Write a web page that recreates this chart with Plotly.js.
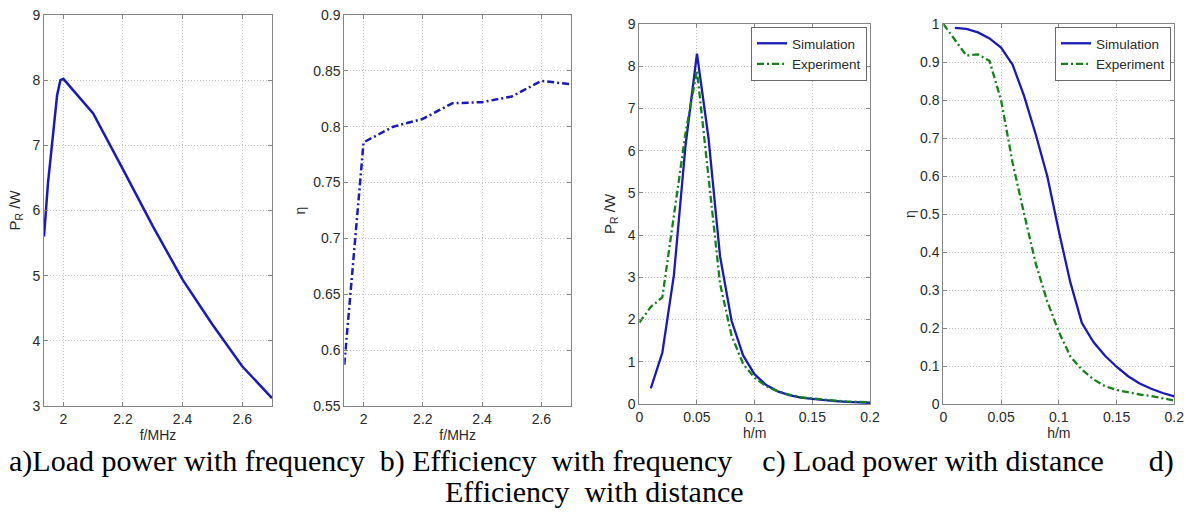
<!DOCTYPE html>
<html>
<head>
<meta charset="utf-8">
<script src="https://cdn.plot.ly/plotly-3.0.1.min.js"></script>
<style>html,body{margin:0;padding:0;background:#fff;}#chart{width:1186px;height:514px;}</style>
</head>
<body>
<div id="chart"></div>
<script>
// ---- data ----
// a) load power vs frequency
const freqA  = [1.935, 1.948, 1.979, 1.99, 2.0, 2.1, 2.2, 2.3, 2.4, 2.5, 2.6, 2.7];
const powerA = [5.6, 6.4, 7.77, 8.0, 8.02, 7.49, 6.63, 5.76, 4.94, 4.25, 3.61, 3.12];
// b) efficiency vs frequency
const freqB = [1.935, 1.95, 1.98, 2.0, 2.1, 2.2, 2.3, 2.4, 2.5, 2.6, 2.7];
const effB  = [0.587, 0.633, 0.725, 0.786, 0.800, 0.807, 0.821, 0.822, 0.827, 0.841, 0.838];
// c) load power vs distance
const distSimC = [0.01,0.02,0.03,0.04,0.05,0.06,0.07,0.08,0.09,0.10,0.11,0.12,0.13,0.14,0.15,0.16,0.17,0.18,0.19,0.20];
const simPowerC = [0.37,1.22,3.05,6.1,8.3,6.3,3.5,1.97,1.15,0.7,0.45,0.3,0.21,0.15,0.12,0.09,0.07,0.05,0.04,0.03];
const distExpC = [0,0.01,0.02,0.03,0.04,0.05,0.06,0.07,0.08,0.09,0.10,0.11,0.12,0.13,0.14,0.15,0.16,0.17,0.18,0.19,0.20];
const expPowerC = [1.93,2.3,2.53,4.5,6.4,7.9,5.3,2.85,1.62,0.95,0.62,0.42,0.3,0.22,0.16,0.13,0.1,0.08,0.06,0.05,0.04];
// d) efficiency vs distance
const distSimD = [0.01,0.02,0.03,0.04,0.05,0.06,0.07,0.08,0.09,0.10,0.11,0.12,0.13,0.14,0.15,0.16,0.17,0.18,0.19,0.20];
const simEffD = [0.99,0.987,0.978,0.962,0.938,0.893,0.81,0.71,0.6,0.455,0.32,0.213,0.163,0.127,0.098,0.073,0.054,0.04,0.029,0.02];
const distExpD = [0,0.02,0.03,0.04,0.05,0.06,0.07,0.08,0.09,0.10,0.11,0.12,0.13,0.14,0.15,0.16,0.17,0.18,0.19,0.20];
const expEffD = [1.0,0.917,0.92,0.903,0.80,0.635,0.5,0.37,0.27,0.19,0.125,0.09,0.065,0.047,0.037,0.03,0.025,0.021,0.015,0.009];

const seriesNames = ['Simulation', 'Experiment'];
const NB = '\u00A0';
const captionLine1 = 'a)Load power with frequency' + NB + ' b) Efficiency' + NB + ' with frequency' + NB + NB + NB + ' c) Load power with distance' + NB + NB + NB + NB + NB + ' d)';
const captionLine2 = 'Efficiency' + NB + ' with distance';

// ---- styling ----
const W = 1186, H = 514;
const BLUE = '#1a1ab5', GREEN = '#16801b';
const sans = 'Liberation Sans, Arial, sans-serif';
function px(a, b) { return [a / W, b / W]; }
function py(top, bottom) { return [(H - bottom) / H, (H - top) / H]; }

function axis(dom, range, dtick, tick0, title, standoff, tsize, extra) {
  return Object.assign({
    domain: dom, range: range, dtick: dtick, tick0: tick0, tickmode: 'linear',
    showline: true, mirror: 'ticks', linecolor: '#858585', linewidth: 1,
    ticks: 'inside', ticklen: 4, tickcolor: '#858585',
    showgrid: true, gridcolor: '#c2c2c2', griddash: '1px,2px', gridwidth: 1,
    zeroline: false, fixedrange: true, automargin: false,
    tickfont: { family: sans, size: 14, color: '#2a2a2a' },
    title: { text: title, standoff: standoff, font: { family: sans, size: tsize, color: '#2a2a2a' } }
  }, extra || {});
}

const DASHDOT = '7px,3px,2px,3px';
const traces = [
  { x: freqA, y: powerA, xaxis: 'x', yaxis: 'y', mode: 'lines', showlegend: false,
    line: { color: BLUE, width: 2.5 } },
  { x: freqB, y: effB, xaxis: 'x2', yaxis: 'y2', mode: 'lines', showlegend: false,
    line: { color: BLUE, width: 2.5, dash: DASHDOT } },
  { x: distSimC, y: simPowerC, xaxis: 'x3', yaxis: 'y3', mode: 'lines', name: seriesNames[0],
    legend: 'legend', line: { color: BLUE, width: 2.3 } },
  { x: distExpC, y: expPowerC, xaxis: 'x3', yaxis: 'y3', mode: 'lines', name: seriesNames[1],
    legend: 'legend', line: { color: GREEN, width: 2.3, dash: DASHDOT } },
  { x: distSimD, y: simEffD, xaxis: 'x4', yaxis: 'y4', mode: 'lines', name: seriesNames[0],
    legend: 'legend2', line: { color: BLUE, width: 2.3 } },
  { x: distExpD, y: expEffD, xaxis: 'x4', yaxis: 'y4', mode: 'lines', name: seriesNames[1],
    legend: 'legend2', line: { color: GREEN, width: 2.3, dash: DASHDOT } }
];

const legendStyle = {
  xanchor: 'right', yanchor: 'top', bgcolor: '#ffffff', bordercolor: '#6a6a6a', borderwidth: 1,
  font: { family: sans, size: 13.5, color: '#2a2a2a' }, itemwidth: 30, tracegroupgap: 0,
  itemclick: false, itemdoubleclick: false
};

const capFont = { family: 'Liberation Serif, Times New Roman, serif', size: 30, color: '#000' };

const layout = {
  width: W, height: H, margin: { l: 0, r: 0, t: 0, b: 0 },
  paper_bgcolor: '#ffffff', plot_bgcolor: '#ffffff',
  xaxis:  axis(px(44, 272), [1.935, 2.7], 0.2, 2, 'f/MHz', 0, 14, { anchor: 'y' }),
  yaxis:  axis(py(15, 406), [3, 9], 1, 3, 'P<sub>R</sub> /W', 8, 15, { anchor: 'x' }),
  xaxis2: axis(px(344.3, 571), [1.935, 2.7], 0.2, 2, 'f/MHz', 0, 14, { anchor: 'y2' }),
  yaxis2: axis(py(15, 406), [0.55, 0.9], 0.05, 0.55, 'η', 4, 14, { anchor: 'x2' }),
  xaxis3: axis(px(639.3, 870), [0, 0.2], 0.05, 0, 'h/m', 0, 14, { anchor: 'y3' }),
  yaxis3: axis(py(24, 404), [0, 9], 1, 0, 'P<sub>R</sub> /W', 8, 15, { anchor: 'x3' }),
  xaxis4: axis(px(943.3, 1174.3), [0, 0.2], 0.05, 0, 'h/m', 0, 14, { anchor: 'y4' }),
  yaxis4: axis(py(24, 404), [0, 1], 0.1, 0, 'η', 1, 14, { anchor: 'x4' }),
  legend:  Object.assign({ x: 867 / W, y: (H - 27) / H }, legendStyle),
  legend2: Object.assign({ x: 1171 / W, y: (H - 27) / H }, legendStyle),
  annotations: [
    { text: captionLine1, xref: 'paper', yref: 'paper', x: 591.5 / W, y: (H - 461) / H,
      xanchor: 'center', yanchor: 'middle', showarrow: false, font: capFont },
    { text: captionLine2, xref: 'paper', yref: 'paper', x: 594 / W, y: (H - 491) / H,
      xanchor: 'center', yanchor: 'middle', showarrow: false, font: capFont }
  ],
  showlegend: true
};

Plotly.newPlot('chart', traces, layout, { displayModeBar: false, staticPlot: true });
</script>
</body>
</html>
